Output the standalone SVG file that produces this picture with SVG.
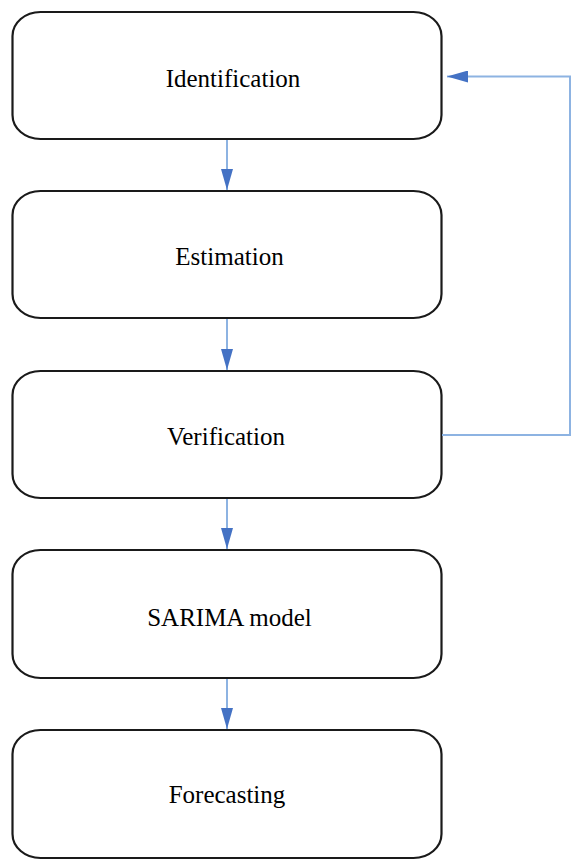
<svg xmlns="http://www.w3.org/2000/svg" width="571" height="860" viewBox="0 0 571 860">
<style>
.box{fill:#fff;stroke:#1a1a1a;stroke-width:2.2}
.lbl{font-family:"Liberation Serif","Times New Roman",serif;font-size:25px;fill:#000;text-anchor:middle}
.conn{fill:none;stroke:#8db3e2;stroke-width:2}
</style>
<defs>
<marker id="ah" viewBox="0 0 21 12" refX="21" refY="6" markerWidth="21" markerHeight="12" markerUnits="userSpaceOnUse" orient="auto">
<path d="M0,0 L21,6 L0,12 Z" fill="#4472c4"/>
</marker>
</defs>
<rect width="571" height="860" fill="#fff"/>
<g id="n1"><rect class="box" x="12.5" y="12" width="429" height="127" rx="28" ry="24"/><text class="lbl" x="233" y="87">Identification</text></g>
<g id="n2"><rect class="box" x="12.5" y="191" width="429" height="127" rx="28" ry="24"/><text class="lbl" x="229.5" y="265">Estimation</text></g>
<g id="n3"><rect class="box" x="12.5" y="371" width="429" height="127" rx="28" ry="24"/><text class="lbl" x="226" y="445">Verification</text></g>
<g id="n4"><rect class="box" x="12.5" y="550" width="429" height="128" rx="28" ry="24"/><text class="lbl" x="229.5" y="626">SARIMA model</text></g>
<g id="n5"><rect class="box" x="12.5" y="730" width="429" height="128" rx="28" ry="24"/><text class="lbl" x="227" y="803">Forecasting</text></g>
<g id="connectors">
<line class="conn" x1="227" y1="140" x2="227" y2="190" marker-end="url(#ah)"/>
<line class="conn" x1="227" y1="319" x2="227" y2="370" marker-end="url(#ah)"/>
<line class="conn" x1="227" y1="499" x2="227" y2="549" marker-end="url(#ah)"/>
<line class="conn" x1="227" y1="679" x2="227" y2="729" marker-end="url(#ah)"/>
<polyline class="conn" points="442,435 570,435 570,76.5 447,76.5" marker-end="url(#ah)"/>
</g>
</svg>
